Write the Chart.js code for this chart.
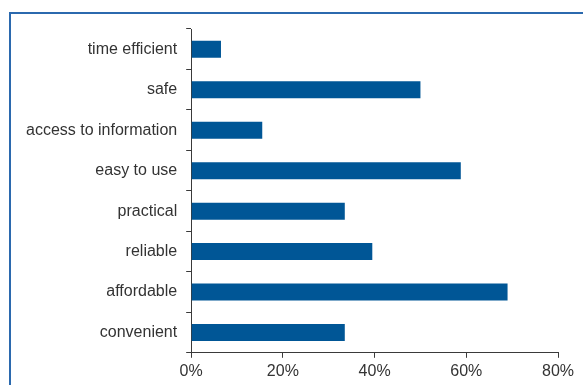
<!DOCTYPE html>
<html>
<head>
<meta charset="utf-8">
<script src="https://cdn.jsdelivr.net/npm/chart.js@4"></script>
<style>
  html, body { margin: 0; padding: 0; background: #fff; }
  #wrap { position: relative; width: 583px; height: 385px; overflow: hidden; }
  #frame { position: absolute; left: 9px; top: 12px; width: 600px; height: 400px;
           border-left: 2px solid #2b69ae; border-top: 2px solid #2b69ae; }
  #chart { position: absolute; left: 0; top: 0; }
</style>
</head>
<body>
<div id="wrap">
  <div id="frame"></div>
  <canvas id="chart" width="583" height="385"></canvas>
</div>
<script>
// answers, top to bottom
const labels = ['time efficient', 'safe', 'access to information', 'easy to use',
                'practical', 'reliable', 'affordable', 'convenient'];
const shares = [6.5, 50, 15.5, 58.8, 33.5, 39.5, 69, 33.5];
const xTicks = [0, 20, 40, 60, 80];

const axisColor = '#3a3a3a';
const labelFont = { family: 'Liberation Sans, Arial, sans-serif', size: 16 };

new Chart(document.getElementById('chart'), {
  type: 'bar',
  data: {
    labels: labels,
    datasets: [{
      data: shares,
      backgroundColor: '#005696',
      categoryPercentage: 1,
      barPercentage: 0.42
    }]
  },
  options: {
    indexAxis: 'y',
    responsive: false,
    animation: false,
    layout: { padding: { left: 17, right: 25, top: 29, bottom: 0 } },
    plugins: { legend: { display: false }, tooltip: { enabled: false } },
    scales: {
      x: {
        min: xTicks[0],
        max: xTicks[xTicks.length - 1],
        afterBuildTicks: (s) => { s.ticks = xTicks.map(v => ({ value: v })); },
        ticks: { color: '#333', font: labelFont, padding: 4, callback: v => v + '%' },
        grid: { drawOnChartArea: false, tickLength: 5, color: axisColor },
        border: { color: axisColor, width: 1 }
      },
      y: {
        ticks: { color: '#333', font: labelFont, padding: 9 },
        grid: { drawOnChartArea: false, offset: true, tickLength: 5, color: axisColor },
        border: { color: axisColor, width: 1 }
      }
    }
  }
});
</script>
</body>
</html>
